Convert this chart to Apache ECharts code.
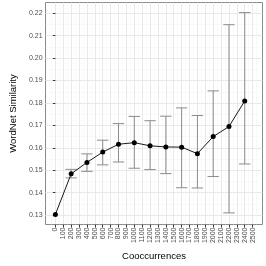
<!DOCTYPE html>
<html>
<head>
<meta charset="utf-8">
<script src="https://cdn.jsdelivr.net/npm/echarts@6/dist/echarts.min.js"></script>
<style>
html,body{margin:0;padding:0;background:#fff;}
#chart{width:266px;height:266px;}
</style>
</head>
<body>
<div id="chart"></div>
<script>
var xs = [0, 200, 400, 600, 800, 1000, 1200, 1400, 1600, 1800, 2000, 2200, 2400];
var means = [0.1303, 0.1484, 0.1535, 0.1581, 0.1616, 0.1623, 0.1609, 0.1604, 0.1603, 0.1574, 0.1650, 0.1695, 0.1809];
var lows = [null, 0.1466, 0.1495, 0.1524, 0.1537, 0.1509, 0.1503, 0.1485, 0.1422, 0.1421, 0.1472, 0.1310, 0.1528];
var highs = [null, 0.1504, 0.1573, 0.1634, 0.1708, 0.1740, 0.1721, 0.1741, 0.1778, 0.1744, 0.1854, 0.2149, 0.2203];
var xTicks = [0,100,200,300,400,500,600,700,800,900,1000,1100,1200,1300,1400,1500,1600,1700,1800,1900,2000,2100,2200,2300,2400,2500];
var yTicks = [0.13,0.14,0.15,0.16,0.17,0.18,0.19,0.20,0.21,0.22];

var chart = echarts.init(document.getElementById('chart'), null, {renderer:'canvas'});
var lineData = xs.map(function(x,i){return [x, means[i]];});
var errData = [];
xs.forEach(function(x,i){ if (lows[i] != null) errData.push([x, lows[i], highs[i]]); });

var font = 'Liberation Sans, Arial, sans-serif';
chart.setOption({
  animation:false,
  backgroundColor:'#fff',
  grid:{left:32, right:3.5, top:2.5, bottom:35, show:true, borderColor:'#8a8a8a', borderWidth:1, backgroundColor:'#fff'},
  xAxis:{
    type:'value', min:-125, max:2625, minInterval:100, maxInterval:100, splitNumber:28,
    name:'Cooccurrences', nameLocation:'middle', nameGap:21,
    nameTextStyle:{fontSize:9.5, color:'#000', fontFamily:font},
    axisLine:{show:false},
    axisTick:{show:true, length:3, lineStyle:{color:'#333', width:1}, customValues:xTicks},
    axisLabel:{rotate:90, fontSize:7, color:'#4d4d4d', margin:3, fontFamily:font, customValues:xTicks,
      formatter:function(v){return String(v);}},
    splitLine:{show:true, lineStyle:{color:'#e8e8e8', width:1}},
    minorTick:{show:false, splitNumber:2},
    minorSplitLine:{show:true, lineStyle:{color:'#f2f2f2', width:0.5}}
  },
  yAxis:{
    type:'value', min:0.1258, max:0.2248, minInterval:0.01, maxInterval:0.01, splitNumber:10,
    name:'WordNet Similarity', nameLocation:'middle', nameGap:19, nameRotate:90,
    nameTextStyle:{fontSize:9.5, color:'#000', fontFamily:font},
    axisLine:{show:false},
    axisTick:{show:true, length:2.5, lineStyle:{color:'#333', width:1}, customValues:yTicks},
    axisLabel:{fontSize:7, color:'#4d4d4d', margin:3, fontFamily:font, customValues:yTicks,
      formatter:function(v){return v.toFixed(2);}},
    splitLine:{show:true, lineStyle:{color:'#e8e8e8', width:1}},
    minorTick:{show:false, splitNumber:2},
    minorSplitLine:{show:true, lineStyle:{color:'#f2f2f2', width:0.5}}
  },
  series:[
    {
      type:'custom', data:errData, z:2,
      renderItem:function(params, api){
        var x = api.value(0);
        var lo = api.coord([x, api.value(1)]);
        var hi = api.coord([x, api.value(2)]);
        var hw = api.size([72, 0])[0];
        var st = {stroke:'#8c8c8c', lineWidth:1};
        return {type:'group', children:[
          {type:'line', shape:{x1:lo[0], y1:lo[1], x2:hi[0], y2:hi[1]}, style:st},
          {type:'line', shape:{x1:lo[0]-hw, y1:lo[1], x2:lo[0]+hw, y2:lo[1]}, style:st},
          {type:'line', shape:{x1:hi[0]-hw, y1:hi[1], x2:hi[0]+hw, y2:hi[1]}, style:st}
        ]};
      }
    },
    {
      type:'line', data:lineData, z:3, symbol:'circle', symbolSize:5,
      lineStyle:{color:'#1a1a1a', width:1},
      itemStyle:{color:'#000'}
    }
  ]
});
</script>
</body>
</html>
